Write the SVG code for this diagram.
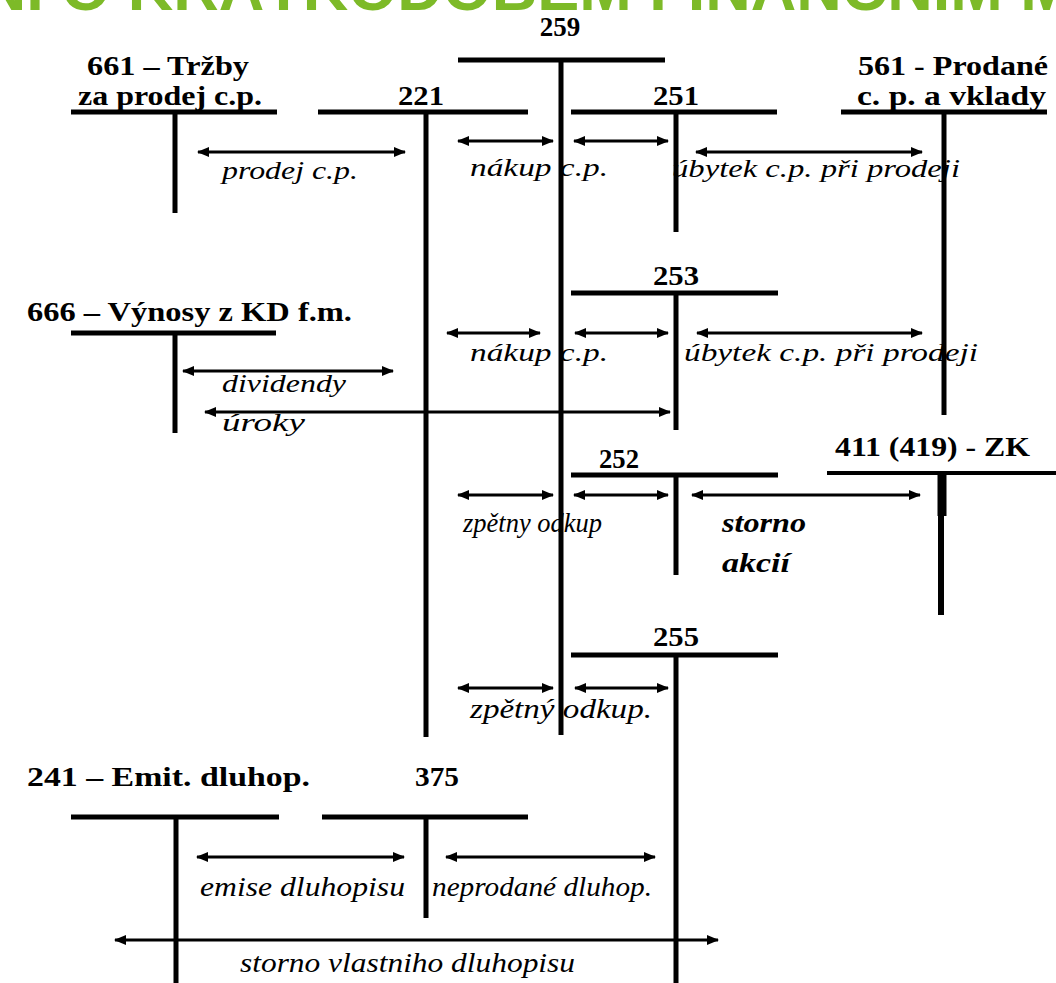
<svg xmlns="http://www.w3.org/2000/svg" width="1056" height="983" viewBox="0 0 1056 983">
<defs>
<marker id="ah" viewBox="0 0 12 10" refX="11" refY="5" markerWidth="12" markerHeight="10" markerUnits="userSpaceOnUse" orient="auto-start-reverse">
<path d="M0,0 L12,5 L0,10 z" fill="#000"/>
</marker>
<style>
.acc{stroke:#000;stroke-width:5;fill:none}
.arr{stroke:#000;stroke-width:3;fill:none;marker-start:url(#ah);marker-end:url(#ah)}
.lb{font-family:'Liberation Serif','Times New Roman',serif;font-weight:bold;font-size:27px;fill:#000}
.it{font-family:'Liberation Serif','Times New Roman',serif;font-style:italic;font-size:25px;fill:#000}
.bi{font-family:'Liberation Serif','Times New Roman',serif;font-style:italic;font-weight:bold;font-size:27px;fill:#000}
.title{font-family:'Liberation Sans',Arial,sans-serif;font-weight:bold;font-size:63px;fill:#7DBA28}
</style>
</defs>
<rect width="1056" height="983" fill="#fff"/>
<text class="title" x="-284" y="10">ÚČTOVÁNÍ O KRÁTKODOBÉM FINANČNÍM MAJETKU</text>

<g id="acc-259">
<path class="acc" d="M458,60 H665 M561,60 V735"/>
<text class="lb" x="560" y="36" text-anchor="middle">259</text>
</g>
<g id="acc-661">
<path class="acc" d="M71,112 H277 M175,112 V213"/>
<text class="lb" x="87" y="75" textLength="162" lengthAdjust="spacingAndGlyphs">661 – Tržby</text>
<text class="lb" x="78" y="105" textLength="184" lengthAdjust="spacingAndGlyphs">za prodej c.p.</text>
</g>
<g id="acc-221">
<path class="acc" d="M318,112 H528 M426,112 V737"/>
<text class="lb" x="421" y="105" text-anchor="middle" textLength="46" lengthAdjust="spacingAndGlyphs">221</text>
</g>
<g id="acc-251">
<path class="acc" d="M571,112 H777 M676,112 V232"/>
<text class="lb" x="676" y="105" text-anchor="middle" textLength="46" lengthAdjust="spacingAndGlyphs">251</text>
</g>
<g id="acc-561">
<path class="acc" d="M841,112 H1047 M944,112 V415"/>
<text class="lb" x="858" y="75" textLength="190" lengthAdjust="spacingAndGlyphs">561 - Prodané</text>
<text class="lb" x="857" y="105" textLength="189" lengthAdjust="spacingAndGlyphs">c. p. a vklady</text>
</g>
<g id="acc-253">
<path class="acc" d="M571,293 H778 M676,293 V430"/>
<text class="lb" x="676" y="285" text-anchor="middle" textLength="46" lengthAdjust="spacingAndGlyphs">253</text>
</g>
<g id="acc-666">
<path class="acc" d="M71,333 H276 M175,333 V433"/>
<text class="lb" x="27" y="321" textLength="325" lengthAdjust="spacingAndGlyphs">666 – Výnosy z KD f.m.</text>
</g>
<g id="acc-252">
<path class="acc" d="M571,475 H778 M676,475 V575"/>
<text class="lb" x="619" y="468" text-anchor="middle" textLength="40" lengthAdjust="spacingAndGlyphs">252</text>
</g>
<g id="acc-411">
<path d="M827,473 H1056" stroke="#000" stroke-width="4"/>
<path d="M942,473 V516" stroke="#000" stroke-width="9"/>
<path d="M941,516 V615" stroke="#000" stroke-width="6"/>
<text class="lb" x="835" y="456" textLength="195" lengthAdjust="spacingAndGlyphs">411 (419) - ZK</text>
</g>
<g id="acc-255">
<path class="acc" d="M571,655 H778 M676,655 V983"/>
<text class="lb" x="676" y="646" text-anchor="middle" textLength="46" lengthAdjust="spacingAndGlyphs">255</text>
</g>
<g id="acc-241">
<path class="acc" d="M71,817 H279 M176,817 V983"/>
<text class="lb" x="27" y="786" textLength="283" lengthAdjust="spacingAndGlyphs">241 – Emit. dluhop.</text>
</g>
<g id="acc-375">
<path class="acc" d="M322,817 H528 M426,817 V918"/>
<text class="lb" x="437" y="786" text-anchor="middle" textLength="44" lengthAdjust="spacingAndGlyphs">375</text>
</g>

<g id="connectors">
<path class="arr" d="M198,152 H405"/>
<path class="arr" d="M458,141 H553"/>
<path class="arr" d="M574,141 H668"/>
<path class="arr" d="M696,152 H922"/>
<path class="arr" d="M447,333 H540"/>
<path class="arr" d="M575,333 H668"/>
<path class="arr" d="M697,333 H922"/>
<path class="arr" d="M183,371 H393"/>
<path class="arr" d="M205,412 H670"/>
<path class="arr" d="M458,495 H553"/>
<path class="arr" d="M574,495 H668"/>
<path class="arr" d="M692,495 H920"/>
<path class="arr" d="M458,688 H553"/>
<path class="arr" d="M575,688 H668"/>
<path class="arr" d="M197,857 H404"/>
<path class="arr" d="M446,857 H655"/>
<path class="arr" d="M115,940 H718"/>
</g>

<g id="labels">
<text class="it" x="222" y="179" textLength="136" lengthAdjust="spacingAndGlyphs">prodej c.p.</text>
<text class="it" x="470" y="176" textLength="138" lengthAdjust="spacingAndGlyphs">nákup c.p.</text>
<text class="it" x="672" y="177" textLength="288" lengthAdjust="spacingAndGlyphs">úbytek c.p. při prodeji</text>
<text class="it" x="470" y="361" textLength="138" lengthAdjust="spacingAndGlyphs">nákup c.p.</text>
<text class="it" x="684" y="361" textLength="294" lengthAdjust="spacingAndGlyphs">úbytek c.p. při prodeji</text>
<text class="it" x="222" y="392" textLength="124" lengthAdjust="spacingAndGlyphs">dividendy</text>
<text class="it" x="222" y="431" textLength="83" lengthAdjust="spacingAndGlyphs">úroky</text>
<text class="it" x="463" y="532" style="font-size:28px" textLength="139" lengthAdjust="spacingAndGlyphs">zpětny odkup</text>
<text class="bi" x="722" y="532" textLength="84" lengthAdjust="spacingAndGlyphs">storno</text>
<text class="bi" x="722" y="572" textLength="68" lengthAdjust="spacingAndGlyphs">akcií</text>
<text class="it" x="470" y="718" style="font-size:27px" textLength="182" lengthAdjust="spacingAndGlyphs">zpětný odkup.</text>
<text class="it" x="200" y="896" style="font-size:27px" textLength="205" lengthAdjust="spacingAndGlyphs">emise dluhopisu</text>
<text class="it" x="432" y="896" style="font-size:27px" textLength="220" lengthAdjust="spacingAndGlyphs">neprodané dluhop.</text>
<text class="it" x="240" y="972" style="font-size:27px" textLength="335" lengthAdjust="spacingAndGlyphs">storno vlastniho dluhopisu</text>
</g>
</svg>
